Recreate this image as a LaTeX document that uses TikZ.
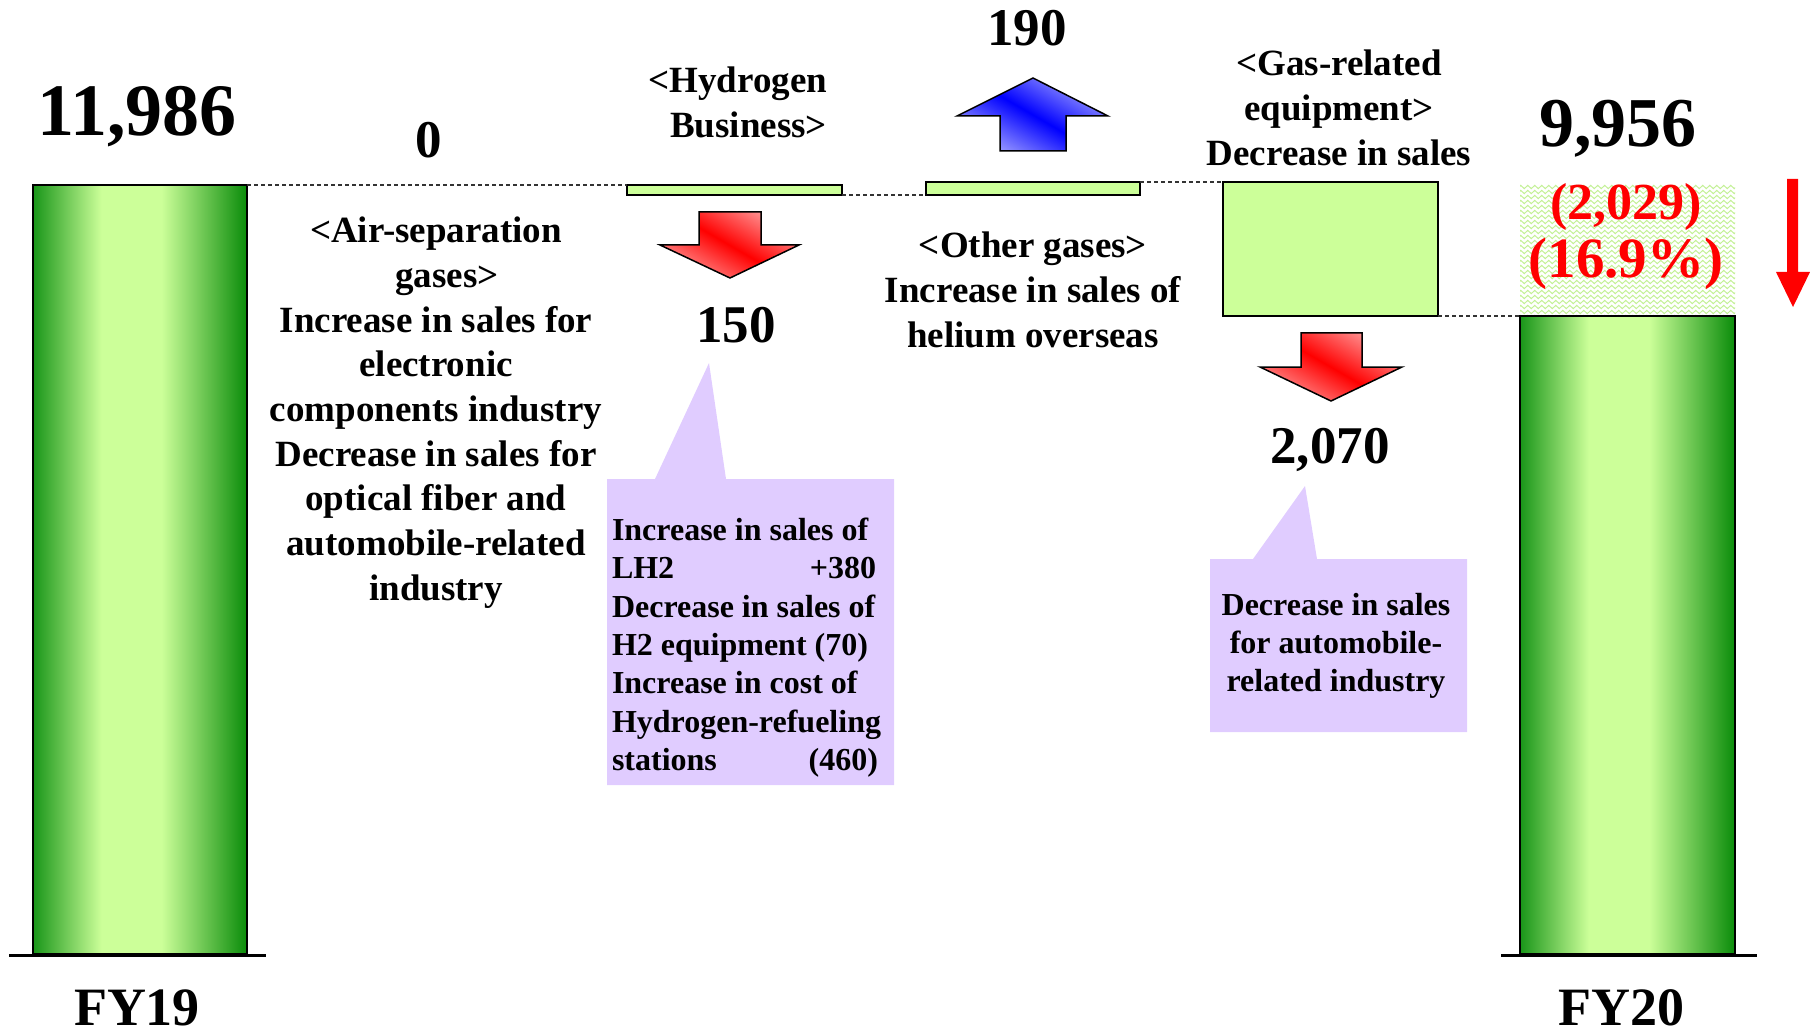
\documentclass[tikz,border=0pt]{standalone}
\usepackage{fontspec}
\setmainfont{Liberation Serif}
\usetikzlibrary{decorations.pathmorphing}
\definecolor{ltgreen}{RGB}{204,255,153}
\definecolor{dkgreenL}{RGB}{25,150,25}
\definecolor{dkgreenR}{RGB}{10,140,10}
\definecolor{lav}{RGB}{224,204,255}
\definecolor{hatchc}{RGB}{195,240,150}
\definecolor{ltred}{RGB}{255,150,150}
\definecolor{ltblue}{RGB}{160,160,255}
\pgfdeclarehorizontalshading{barshade}{100bp}{color(0bp)=(dkgreenL); color(25bp)=(dkgreenL); color(41bp)=(ltgreen); color(55bp)=(ltgreen); color(75bp)=(dkgreenR); color(100bp)=(dkgreenR)}
\pgfdeclarehorizontalshading{redshade}{100bp}{color(0bp)=(ltred); color(25bp)=(ltred); color(50bp)=(red); color(75bp)=(ltred); color(100bp)=(ltred)}
\pgfdeclarehorizontalshading{blueshade}{100bp}{color(0bp)=(ltblue); color(25bp)=(ltblue); color(50bp)=(blue); color(75bp)=(ltblue); color(100bp)=(ltblue)}
\begin{document}
\begin{tikzpicture}[x=1pt,y=-1pt,
  every node/.style={inner sep=0pt, outer sep=0pt},
  lbl/.style={font=\fontsize{37}{44.7}\selectfont\bfseries, align=center},
  num/.style={font=\fontsize{53}{60}\selectfont\bfseries},
  bignum/.style={font=\fontsize{74}{80}\selectfont\bfseries},
  midnum/.style={font=\fontsize{70}{76}\selectfont\bfseries},
  rednumA/.style={font=\fontsize{52}{56}\selectfont\bfseries, text=red},
  rednumB/.style={font=\fontsize{57}{60}\selectfont\bfseries, text=red},
  yr/.style={font=\fontsize{54}{60}\selectfont\bfseries},
  calltxt/.style={font=\fontsize{32}{38.3}\selectfont\bfseries},
  bar/.style={draw=black, line width=2pt, shading=barshade, shade},
  pale/.style={draw=black, line width=2pt, fill=ltgreen},
  link/.style={draw=black!80, line width=1.5pt, dash pattern=on 4pt off 3pt},
  base/.style={draw=black, line width=3pt},
  blockred/.style={shading=redshade, shade, shading angle=60, draw=black, line width=1.5pt, line join=miter},
  blockblue/.style={shading=blueshade, shade, shading angle=60, draw=black, line width=1.5pt, line join=miter},
  callout/.style={fill=lav, draw=none}]
\useasboundingbox (0,0) rectangle (1810,1032);

% hatch region above FY20
\begin{scope}
  \clip (1520,185) rectangle (1735,316);
  \foreach \yy in {187,192,...,317} {
    \draw[hatchc, line width=1pt, decorate, decoration={zigzag, segment length=7pt, amplitude=1.6pt}] (1512,\yy) -- (1745,\yy);
  }
\end{scope}

% bars
\node[bar, minimum width=214pt, minimum height=769pt] (fy19) at (140,569.5) {};
\node[bar, minimum width=215pt, minimum height=638pt] (fy20) at (1627.5,635) {};
\node[pale, minimum width=215pt, minimum height=10pt] (h2bar) at (734.5,190) {};
\node[pale, minimum width=214pt, minimum height=13pt] (othbar) at (1033,188.5) {};
\node[pale, minimum width=215pt, minimum height=134pt] (gasbox) at (1330.5,249) {};

% dashed links
\draw[link] (fy19.north east) -- (h2bar.north west);
\draw[link] (h2bar.south east) -- (othbar.south west);
\draw[link] (othbar.north east) -- (gasbox.north west);
\draw[link] (gasbox.south east) -- (fy20.north west);

% base lines
\coordinate (b19l) at (9,955); \coordinate (b19r) at (266,955);
\coordinate (b20l) at (1501,955); \coordinate (b20r) at (1757,955);
\draw[base] (b19l) -- (b19r);
\draw[base] (b20l) -- (b20r);

% block arrows
\path[blockred] (699,212) -- (761,212) -- (761,245) -- (799,245) -- (730,278) -- (660,245) -- (699,245) -- cycle;
\path[blockred] (1301,333) -- (1362,333) -- (1362,367) -- (1402,367) -- (1331,401) -- (1260,367) -- (1301,367) -- cycle;
\path[blockblue] (1000,151) -- (1066,151) -- (1066,116) -- (1108,116) -- (1033,78) -- (957,116) -- (1000,116) -- cycle;
\fill[red] (1787,179) -- (1798,179) -- (1798,272) -- (1810,272) -- (1793,307) -- (1776,272) -- (1787,272) -- cycle;

% callouts
\path[callout] (607,479) -- (655,479) -- (709,363) -- (726,479) -- (894,479) -- (894,785) -- (607,785) -- cycle;
\path[callout] (1210,559) -- (1253,559) -- (1305,486) -- (1317,559) -- (1467,559) -- (1467,732) -- (1210,732) -- cycle;

% texts
\node[bignum, anchor=north] (v19) at (137,86) {11,986};
\node[midnum, anchor=north] (v20) at (1618,100) {9,956};
\node[num, anchor=north] (vair) at (429,122) {0};
\node[num, anchor=north] (vh2) at (736,307) {150};
\node[num, anchor=north] (voth) at (1027,10) {190};
\node[num, anchor=north] (vgas) at (1330,428) {2,070};
\node[rednumA, anchor=north] (vdiff) at (1626,183) {(2,029)};
\node[rednumB, anchor=north] (vpct) at (1626,238) {(16.9\%)};
\node[yr, anchor=north] (y19) at (137,990) {FY19};
\node[yr, anchor=north] (y20) at (1621,990) {FY20};

\node[lbl, anchor=north] (tair) at (436,217) {<Air-separation\\ \hspace*{22pt}gases>\\Increase in sales for\\electronic\\components industry\\Decrease in sales for\\optical fiber and\\automobile-related\\industry};
\node[lbl, anchor=north east, align=right] (th2) at (827,67) {<Hydrogen\\Business>};
\node[lbl, anchor=north] (toth) at (1033,232) {<Other gases>\\Increase in sales of\\helium overseas};
\node[lbl, anchor=north] (tgas) at (1339,50) {<Gas-related\\equipment>\\Decrease in sales};

\node[calltxt, anchor=north west, align=left] (c1) at (612,518) {Increase in sales of\\ \hbox to 264pt{LH2\hfill+380}\\Decrease in sales of\\H2 equipment (70)\\Increase in cost of\\Hydrogen-refueling\\ \hbox to 266pt{stations\hfill(460)}};
\node[calltxt, anchor=north, align=center] (c2) at (1336,593) {Decrease in sales\\for automobile-\\related industry};
\end{tikzpicture}
\end{document}
